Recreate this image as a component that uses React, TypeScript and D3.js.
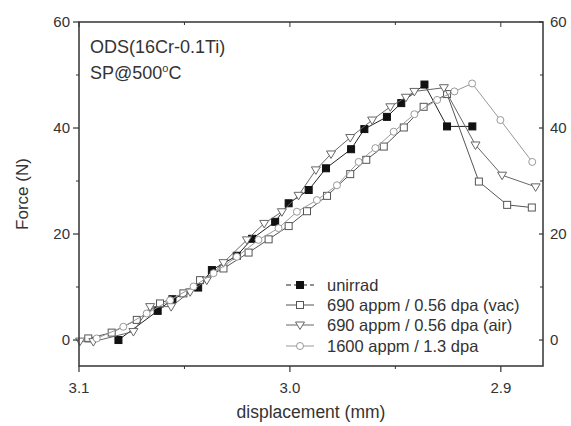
import React from "react";
import * as d3 from "d3";

type Pt = [number, number];

const unirrad: Pt[] = [
  [3.0813, 0], [3.0627, 5.5], [3.0557, 7.7], [3.0435, 9.9], [3.037, 13.2],
  [3.0252, 15.9], [3.0179, 19.1], [3.007, 22.3], [3.0006, 25.8], [2.9911, 28.3],
  [2.9829, 32.4], [2.971, 36.0], [2.9647, 39.8], [2.954, 42.1], [2.9472, 44.7],
  [2.9362, 48.2], [2.9255, 40.3], [2.9135, 40.3],
];

const vac: Pt[] = [
  [3.0956, 0.3], [3.0845, 1.4], [3.0726, 3.8], [3.0616, 6.9], [3.0505, 8.8],
  [3.0426, 11.3], [3.0315, 13.5], [3.0196, 16.5], [3.0101, 19.0], [3.0006, 21.5],
  [2.9919, 24.3], [2.9824, 27.2], [2.9714, 31.3], [2.9638, 34.0], [2.9555, 36.5],
  [2.946, 40.1], [2.9366, 44.0], [2.9255, 46.4], [2.9104, 29.9], [2.897, 25.5],
  [2.8853, 25.0],
];

const air: Pt[] = [
  [3.0995, -0.2], [3.0932, -0.3], [3.0742, 1.6], [3.0663, 6.3], [3.0563, 6.3],
  [3.0473, 9.1], [3.0394, 11.3], [3.0315, 14.6], [3.0204, 18.9], [3.0122, 22.0],
  [3.0038, 24.2], [2.9959, 27.3], [2.9877, 32.1], [2.9805, 35.1], [2.9714, 38.2],
  [2.961, 41.5], [2.9524, 44.0], [2.945, 45.8], [2.941, 46.9], [2.927, 47.6],
  [2.912, 36.8], [2.8994, 31.1], [2.8835, 28.9],
];

const appm1600: Pt[] = [
  [3.0916, 0.3], [3.079, 2.5], [3.0679, 5.0], [3.0568, 7.5], [3.0457, 10.1],
  [3.0362, 12.6], [3.0252, 15.7], [3.0149, 18.9], [3.0054, 21.1], [2.9967, 24.2],
  [2.9872, 26.4], [2.9777, 29.2], [2.9674, 33.6], [2.9595, 36.2], [2.9508, 39.3],
  [2.941, 42.6], [2.9302, 45.3], [2.922, 46.9], [2.9136, 48.4], [2.9002, 41.5],
  [2.8851, 33.6],
];

const seriesNames = [
  "unirrad",
  "690 appm / 0.56 dpa (vac)",
  "690 appm / 0.56 dpa (air)",
  "1600 appm / 1.3 dpa",
];

const xMajorTicks = [3.1, 3.0, 2.9];
const xMinorTicks = [3.05, 2.95];
const yMajorTicks = [0, 20, 40, 60];
const yMinorTicks = [10, 30, 50];

const W = 571;
const H = 426;
const L = 79;
const R = 543;
const T = 22;
const B = 366;

export default function App() {
  const x = d3.scaleLinear().domain([3.1, 2.88]).range([L, R]);
  const y = d3.scaleLinear().domain([-4.9, 60]).range([B, T]);
  const line = d3
    .line<Pt>()
    .x((d) => x(d[0]))
    .y((d) => y(d[1]));

  const axisColor = "#333";
  const textColor = "#333";
  const font = "'Liberation Sans', Arial, sans-serif";

  const styles = [
    { data: unirrad, stroke: "#222", marker: "fsq", dash: "5,3" },
    { data: vac, stroke: "#555", marker: "sq", dash: "" },
    { data: air, stroke: "#666", marker: "tri", dash: "" },
    { data: appm1600, stroke: "#999", marker: "circ", dash: "" },
  ];

  const drawMarker = (kind: string, cx: number, cy: number, stroke: string, key: string) => {
    if (kind === "fsq")
      return <rect key={key} x={cx - 3.5} y={cy - 3.5} width={7} height={7} fill="#111" stroke="#111" />;
    if (kind === "sq")
      return <rect key={key} x={cx - 3.5} y={cy - 3.5} width={7} height={7} fill="#fff" stroke={stroke} strokeWidth={1} />;
    if (kind === "tri")
      return (
        <path
          key={key}
          d={`M${cx - 4.5},${cy - 3}L${cx + 4.5},${cy - 3}L${cx},${cy + 4.5}Z`}
          fill="#fff"
          stroke={stroke}
          strokeWidth={1}
        />
      );
    return <circle key={key} cx={cx} cy={cy} r={3.5} fill="#fff" stroke={stroke} strokeWidth={1} />;
  };

  const legendY = [285, 305, 325, 346];

  return (
    <svg width={W} height={H} style={{ position: "absolute", left: 0, top: 0, background: "#fff" }}>
      <rect x={0} y={0} width={W} height={H} fill="#fff" />
      {/* data */}
      {styles.map((s, i) => (
        <g key={i}>
          <path d={line(s.data) || ""} fill="none" stroke={s.stroke} strokeWidth={1} />
          {s.data.map((d, j) => drawMarker(s.marker, x(d[0]), y(d[1]), s.stroke, `${i}-${j}`))}
        </g>
      ))}
      {/* frame */}
      <rect x={L} y={T} width={R - L} height={B - T} fill="none" stroke={axisColor} strokeWidth={1.5} />
      {/* y ticks */}
      {yMajorTicks.map((v) => (
        <g key={`y${v}`}>
          <line x1={L - 6} x2={L} y1={y(v)} y2={y(v)} stroke={axisColor} strokeWidth={1.2} />
          <line x1={R - 4} x2={R} y1={y(v)} y2={y(v)} stroke={axisColor} strokeWidth={1.2} />
          <text x={L - 9} y={y(v)} dy="0.35em" textAnchor="end" fontSize={15} fill={textColor} fontFamily={font}>
            {v}
          </text>
          <text x={R + 7} y={y(v)} dy="0.35em" textAnchor="start" fontSize={15} fill={textColor} fontFamily={font}>
            {v}
          </text>
        </g>
      ))}
      {yMinorTicks.map((v) => (
        <g key={`ym${v}`}>
          <line x1={L - 3} x2={L} y1={y(v)} y2={y(v)} stroke={axisColor} strokeWidth={1} />
          <line x1={R - 3} x2={R} y1={y(v)} y2={y(v)} stroke={axisColor} strokeWidth={1} />
        </g>
      ))}
      {/* x ticks */}
      {xMajorTicks.map((v) => (
        <g key={`x${v}`}>
          <line x1={x(v)} x2={x(v)} y1={B} y2={B + 6} stroke={axisColor} strokeWidth={1.2} />
          <line x1={x(v)} x2={x(v)} y1={T} y2={T + 5} stroke={axisColor} strokeWidth={1} />
          <text x={x(v)} y={393} textAnchor="middle" fontSize={15} fill={textColor} fontFamily={font}>
            {v.toFixed(1)}
          </text>
        </g>
      ))}
      {xMinorTicks.map((v) => (
        <g key={`xm${v}`}>
          <line x1={x(v)} x2={x(v)} y1={B} y2={B + 3} stroke={axisColor} strokeWidth={1} />
          <line x1={x(v)} x2={x(v)} y1={T} y2={T + 3} stroke={axisColor} strokeWidth={1} />
        </g>
      ))}
      {/* axis labels */}
      <text
        transform={`translate(22,${(T + B) / 2}) rotate(-90)`}
        textAnchor="middle"
        dy="0.35em"
        fontSize={17}
        fill={textColor}
        fontFamily={font}
      >
        Force (N)
      </text>
      <text x={311} y={418} textAnchor="middle" fontSize={17.5} fill={textColor} fontFamily={font}>
        displacement (mm)
      </text>
      {/* annotations */}
      <text x={90} y={53} fontSize={18} fill={textColor} fontFamily={font}>
        ODS(16Cr-0.1Ti)
      </text>
      <text x={90} y={79} fontSize={18} fill={textColor} fontFamily={font}>
        SP@500
        <tspan fontSize={11} dy={-7}>o</tspan>
        <tspan dy={7}>C</tspan>
      </text>
      {/* legend */}
      {styles.map((s, i) => (
        <g key={`lg${i}`}>
          <line
            x1={286}
            x2={314}
            y1={legendY[i]}
            y2={legendY[i]}
            stroke={s.stroke}
            strokeWidth={1}
            strokeDasharray={s.dash || undefined}
          />
          {drawMarker(s.marker, 300, legendY[i], s.stroke, `lgm${i}`)}
          <text x={327} y={legendY[i]} dy="0.35em" fontSize={16.5} fill={textColor} fontFamily={font}>
            {seriesNames[i]}
          </text>
        </g>
      ))}
    </svg>
  );
}
